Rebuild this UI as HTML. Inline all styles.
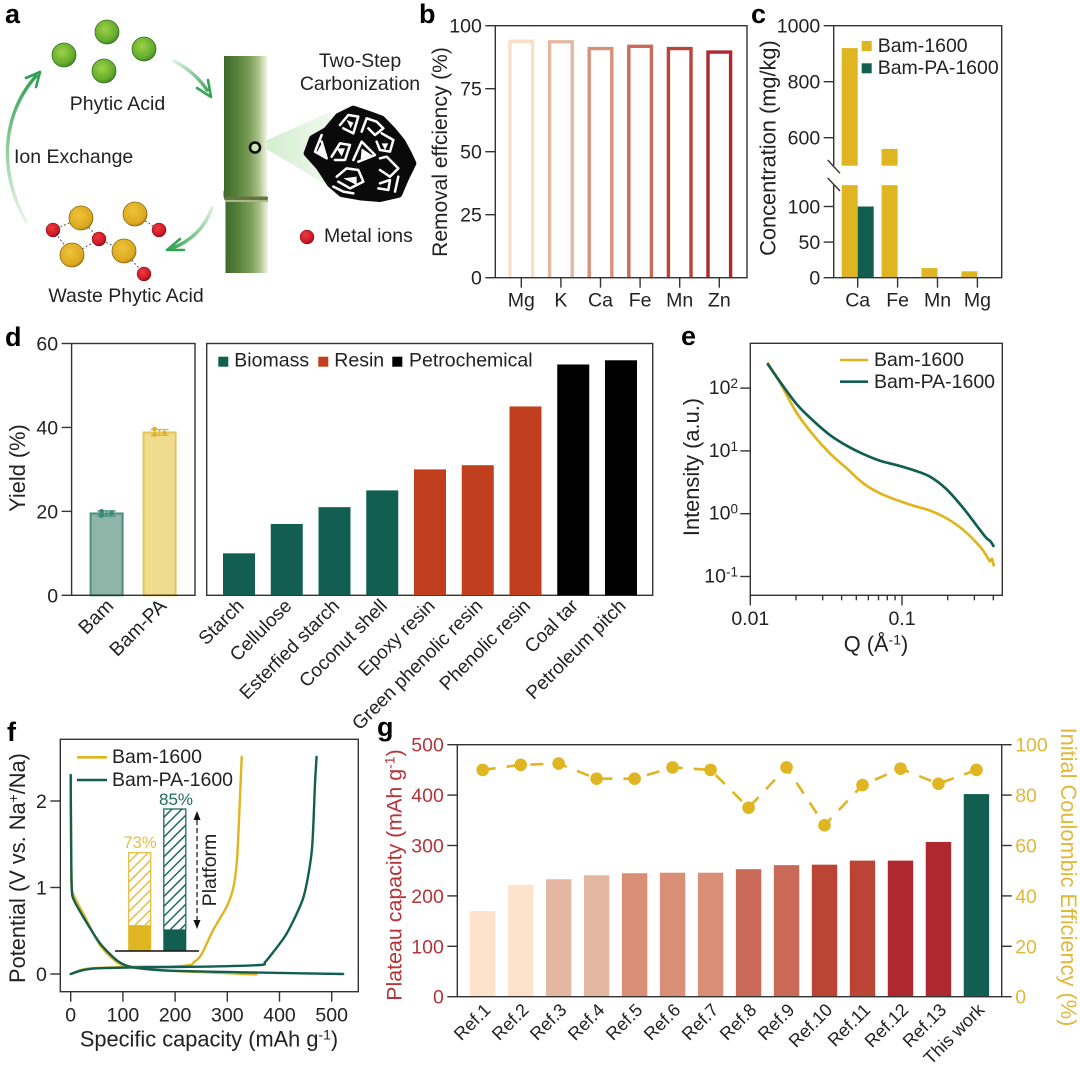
<!DOCTYPE html>
<html lang="en">
<head>
<meta charset="utf-8">
<title>Bamboo hard carbon figure</title>
<style>
html,body{margin:0;padding:0;background:#fff;width:1080px;height:1068px;overflow:hidden}
svg{display:block}
text{font-family:"Liberation Sans",sans-serif;font-size:19.5px;fill:#222}
.let{font-weight:700;font-size:27px;fill:#000}
.ttl{font-size:21.8px}
</style>
</head>
<body>
<svg id="fig" xmlns="http://www.w3.org/2000/svg" width="1080" height="1068" viewBox="0 0 1080 1068">
<defs>
<radialGradient id="gGreen" cx="42%" cy="38%" r="65%"><stop offset="0" stop-color="#9fd048"/><stop offset=".75" stop-color="#62ad2b"/><stop offset="1" stop-color="#44802a"/></radialGradient>
<radialGradient id="gGold" cx="42%" cy="38%" r="65%"><stop offset="0" stop-color="#eec33a"/><stop offset=".8" stop-color="#dca91f"/><stop offset="1" stop-color="#a98019"/></radialGradient>
<radialGradient id="gRed" cx="40%" cy="35%" r="65%"><stop offset="0" stop-color="#ee3a42"/><stop offset=".8" stop-color="#cb1722"/><stop offset="1" stop-color="#8c1218"/></radialGradient>
<linearGradient id="gBamboo" x1="0" x2="1" y1="0" y2="0"><stop offset="0" stop-color="#3e6a2c"/><stop offset=".3" stop-color="#56813a"/><stop offset=".6" stop-color="#7c9f58"/><stop offset=".8" stop-color="#a9c088"/><stop offset=".92" stop-color="#d6e2bf"/><stop offset="1" stop-color="#eef2df"/></linearGradient>
<linearGradient id="gCone" x1="0" x2="1" y1="0" y2="0"><stop offset="0" stop-color="#cfeccb"/><stop offset="1" stop-color="#f6fcf5"/></linearGradient>
<linearGradient id="gArrTop" gradientUnits="userSpaceOnUse" x1="172" y1="60" x2="208" y2="94"><stop offset="0" stop-color="#e6f3e6"/><stop offset="1" stop-color="#3aa655"/></linearGradient>
<linearGradient id="gArrLeft" gradientUnits="userSpaceOnUse" x1="26" y1="222" x2="36" y2="75"><stop offset="0" stop-color="#eef7ee"/><stop offset=".6" stop-color="#7cc48a"/><stop offset="1" stop-color="#2f9f50"/></linearGradient>
<linearGradient id="gArrBot" gradientUnits="userSpaceOnUse" x1="212" y1="208" x2="170" y2="249"><stop offset="0" stop-color="#dff0df"/><stop offset="1" stop-color="#36a553"/></linearGradient>
<pattern id="hatchGold" patternUnits="userSpaceOnUse" width="7" height="7" patternTransform="rotate(45)"><rect width="7" height="7" fill="#fff"/><rect width="1.5" height="7" fill="#e3bf45"/></pattern>
<pattern id="hatchGreen" patternUnits="userSpaceOnUse" width="7" height="7" patternTransform="rotate(45)"><rect width="7" height="7" fill="#fff"/><rect width="1.5" height="7" fill="#1f6b5c"/></pattern>
</defs>

<!-- Panel letters -->
<text class="let" x="5" y="23">a</text>
<text class="let" x="419" y="23">b</text>
<text class="let" x="751" y="23">c</text>
<text class="let" x="5" y="346">d</text>
<text class="let" x="681" y="345">e</text>
<text class="let" x="7" y="741">f</text>
<text class="let" x="377" y="736">g</text>

<!-- Panel a illustration -->
<g>
  <polygon points="258,144 330,112 345,196" fill="url(#gCone)"/>
  <g>
    <rect x="224" y="56" width="43" height="140" fill="url(#gBamboo)"/>
    <rect x="225.5" y="198" width="42.5" height="75" fill="url(#gBamboo)"/>
    <rect x="223.5" y="190" width="44" height="8" rx="2" fill="url(#gBamboo)"/>
    <rect x="224" y="196.5" width="44" height="3.5" rx="1.5" fill="#66743f"/>
    <rect x="226" y="200" width="42" height="2" fill="#a9b98a"/>
  </g>
  <circle cx="255" cy="147.5" r="5" fill="#cfe5b8" stroke="#0c0c0c" stroke-width="2.6"/>
  <g transform="scale(.33333)">
    <polygon fill="#0a0a0a" stroke="#0a0a0a" stroke-width="22" stroke-linejoin="round" points="1015,350 1060,328 1110,345 1145,358 1178,392 1205,425 1225,462 1238,490 1216,535 1196,582 1140,595 1080,590 1025,580 992,552 958,500 922,460 938,416 980,392"/>
    <g fill="none" stroke="#fff" stroke-width="7.5" stroke-linejoin="round" stroke-linecap="round">
      <polyline points="1020,375 1045,345 1075,350 1060,400 1030,385"/>
      <polyline points="1085,395 1100,355 1130,365 1150,385 1125,405 1105,385"/>
      <polyline points="1145,400 1180,420 1170,455 1140,450 1130,425"/>
      <polyline points="965,405 945,455 980,475 965,425"/>
      <polyline points="995,470 1020,430 1050,435 1035,480 1005,480"/>
      <polyline points="1060,480 1085,425 1125,465 1075,485"/>
      <polyline points="1140,475 1160,470 1195,505 1170,530 1140,510"/>
      <polyline points="1010,530 1040,505 1075,510 1090,545 1050,565 1015,545"/>
      <polyline points="1000,560 1030,575 1060,580"/>
      <polyline points="1140,550 1170,540 1165,570 1135,565"/>
      <polyline points="1195,530 1185,575"/>
    </g>
    <polygon fill="#fff" points="1040,360 1060,368 1052,385"/>
    <polygon fill="#fff" points="965,430 950,458 975,468"/>
    <polygon fill="#fff" points="1085,445 1115,465 1082,478"/>
    <polygon fill="#fff" points="1030,535 1070,530 1070,555"/>
    <polygon fill="#fff" points="1010,445 1035,445 1025,470"/>
    <polygon fill="#fff" points="1145,430 1165,430 1155,450"/>
  </g>
  <g stroke="#3f6f28" stroke-width=".8">
    <circle cx="107" cy="32" r="12" fill="url(#gGreen)"/>
    <circle cx="64" cy="55" r="12" fill="url(#gGreen)"/>
    <circle cx="144" cy="49" r="12" fill="url(#gGreen)"/>
    <circle cx="104" cy="71" r="12" fill="url(#gGreen)"/>
  </g>
  <g stroke="#555" stroke-width="1" stroke-dasharray="2 2" fill="none">
    <path d="M53 230L81 218M81 218L99 239M53 230L72 255M72 255L99 239M99 239L124 251M135 214L159 230M124 251L144 274"/>
  </g>
  <g stroke="#8a6a15" stroke-width=".8">
    <circle cx="81" cy="218" r="12" fill="url(#gGold)"/>
    <circle cx="135" cy="214" r="12" fill="url(#gGold)"/>
    <circle cx="72" cy="255" r="12" fill="url(#gGold)"/>
    <circle cx="124" cy="251" r="12" fill="url(#gGold)"/>
  </g>
  <g stroke="#7d1016" stroke-width=".5">
    <circle cx="53" cy="230" r="7" fill="url(#gRed)"/>
    <circle cx="159" cy="230" r="7" fill="url(#gRed)"/>
    <circle cx="99" cy="239" r="7" fill="url(#gRed)"/>
    <circle cx="144" cy="274" r="7" fill="url(#gRed)"/>
    <circle cx="307" cy="237" r="7" fill="url(#gRed)"/>
  </g>
  <g fill="none" stroke-linecap="round">
    <path d="M174 61Q195 72 207 90" stroke="url(#gArrTop)" stroke-width="3.5"/>
    <path d="M197 88L211 97L208 80" stroke="#36a553" stroke-width="2.6" stroke-linejoin="round"/>
    <path d="M26 222C-2 170 2 115 36 76" stroke="url(#gArrLeft)" stroke-width="3.4"/>
    <path d="M26 78L40 72L36 87" stroke="#2f9f50" stroke-width="2.6" stroke-linejoin="round"/>
    <path d="M212 208C205 228 190 242 170 249" stroke="url(#gArrBot)" stroke-width="3.5"/>
    <path d="M180 239L167 250L184 250" stroke="#36a553" stroke-width="2.6" stroke-linejoin="round"/>
  </g>
  <text x="117.5" y="110" text-anchor="middle">Phytic Acid</text>
  <text x="14" y="163">Ion Exchange</text>
  <text x="126" y="302" text-anchor="middle">Waste Phytic Acid</text>
  <text x="360" y="67" text-anchor="middle">Two-Step</text>
  <text x="360" y="90" text-anchor="middle">Carbonization</text>
  <text x="324" y="242">Metal ions</text>
</g>

<g id="charts"></g>
</svg>

<script>
// Panel b
const bCategories = ['Mg','K','Ca','Fe','Mn','Zn'];
const bValues = [94.5,94.3,91.6,92.5,91.6,90.2];
const bColors = ['#fbe0c8','#e4b8a3','#d89178','#cb6b5b','#b9443a','#b0282f'];
const bTicks = [0,25,50,75,100];
// Panel c
const cCategories = ['Ca','Fe','Mn','Mg'];
const cBam = [920,560,13.5,9];
const cBamPA = [100,0,0,0];
const cTicks = [0,50,100,600,800,1000];
// Panel d left
const dLeftCategories = ['Bam','Bam-PA'];
const dLeftValues = [19.5,38.8];
const dLeftErrors = [0.6,0.7];
const dLeftPoints = [[19.0,20.0,19.6],[38.3,39.6,38.7]];
const dTicks = [0,20,40,60];
// Panel d right
const dCategories = ['Starch','Cellulose','Esterfied starch','Coconut shell','Epoxy resin','Green phenolic resin','Phenolic resin','Coal tar','Petroleum pitch'];
const dValues = [10,17,21,25,30,31,45,55,56];
const dGroups = [0,0,0,0,1,1,1,2,2];
const dGroupNames = ['Biomass','Resin','Petrochemical'];
// Panel e
const eQ = [0.01294,0.0157,0.0202,0.026,0.0335,0.0432,0.0556,0.0716,0.0922,0.1188,0.153,0.197,0.254,0.327,0.36,0.38,0.392,0.404];
const eBam = [256,122,40.5,17.9,9.12,5.27,3.04,2.11,1.65,1.34,1.12,0.843,0.55,0.299,0.215,0.175,0.19,0.145];
const eBamPA = [247,126,55.6,30.2,17.9,12.1,8.9,6.97,5.95,4.95,3.88,2.44,1.22,0.55,0.41,0.37,0.335,0.295];
const eYExponents = [2,1,0,-1];
const eXMajor = [0.01,0.1];
const eXMinor = [0.02,0.03,0.04,0.05,0.06,0.07,0.08,0.09,0.2,0.3,0.4];
// Panel f
const fChargeBamQ = [0,24,50,130,190,229,236,250,273,299,312,319,324,327.6];
const fChargeBamV = [0,0.054,0.07,0.085,0.085,0.104,0.135,0.22,0.51,0.78,1.01,1.36,2.0,2.51];
const fDisBamQ = [0,1,2.5,24,56,88,114,184,290,356];
const fDisBamV = [2.3,1.4,0.97,0.7,0.335,0.14,0.077,0.04,0.012,-0.005];
const fChargePAQ = [0,20,50,130,250,363,372,385,414,446,462,468,471];
const fChargePAV = [0,0.04,0.066,0.077,0.085,0.104,0.135,0.23,0.47,0.89,1.43,2.2,2.51];
const fDisPAQ = [0,0.8,2,5,24,56,88,114,184,375,522];
const fDisPAV = [2.3,1.5,1.0,0.87,0.66,0.355,0.16,0.085,0.04,0.015,0];
const fXTicks = [0,100,200,300,400,500];
const fYTicks = [0,1,2];
const fInsetLabels = ['73%','85%'];
// Panel g
const gCategories = ['Ref.1','Ref.2','Ref.3','Ref.4','Ref.5','Ref.6','Ref.7','Ref.8','Ref.9','Ref.10','Ref.11','Ref.12','Ref.13','This work'];
const gCapacity = [170,222,233,241,245,246,246,253,261,262,270,270,307,402];
const gEfficiency = [90,92,92.5,86.5,86.5,91,90,75,91,68,84,90.5,84.5,90];
const gColors = ['#fde3cc','#fde3cc','#e4b7a2','#e4b7a2','#d98f76','#d98f76','#d98f76','#ca6958','#ca6958','#ba4535','#ba4535','#ae2830','#ae2830','#125f51'];
const gLeftTicks = [0,100,200,300,400,500];
const gRightTicks = [0,20,40,60,80,100];

const GOLD='#dfb521', GREEN='#125f51', RESIN='#c13f1f', AXRED='#b5343a', AXGOLD='#e0b83a', INK='#333';
const root=document.getElementById('charts');
const NS='http://www.w3.org/2000/svg';
function mk(tag,attrs,parent,txt){
  const n=document.createElementNS(NS,tag);
  for(const k in attrs)n.setAttribute(k,attrs[k]);
  if(txt!==undefined)n.textContent=txt;
  (parent||root).appendChild(n);
  return n;
}
function group(name){
  const g=mk('g',{});
  
  
  return g;
}
function linear(d0,d1,r0,r1){return v=>r0+(v-d0)*(r1-r0)/(d1-d0);}
function log10Scale(d0,r0,pxPerDecade){return v=>r0+(Math.log10(v)-Math.log10(d0))*pxPerDecade;}
function smooth(pts,t){
  let d='M'+pts[0][0].toFixed(2)+' '+pts[0][1].toFixed(2);
  for(let i=0;i<pts.length-1;i++){
    const p0=pts[Math.max(0,i-1)],p1=pts[i],p2=pts[i+1],p3=pts[Math.min(pts.length-1,i+2)];
    const c1=[p1[0]+(p2[0]-p0[0])*t,p1[1]+(p2[1]-p0[1])*t];
    const c2=[p2[0]-(p3[0]-p1[0])*t,p2[1]-(p3[1]-p1[1])*t];
    d+='C'+c1[0].toFixed(2)+' '+c1[1].toFixed(2)+' '+c2[0].toFixed(2)+' '+c2[1].toFixed(2)+' '+p2[0].toFixed(2)+' '+p2[1].toFixed(2);
  }
  return d;
}
function frame(parent,x0,y0,x1,y1){
  const r=mk('rect',{x:x0,y:y0,width:x1-x0,height:y1-y0,fill:'none',stroke:INK,'stroke-width':1.4},parent);
  
  
}
function yAxis(parent,ticks,scale,x,color,side){
  const dir=side==='right'?1:-1;
  ticks.forEach(v=>{
    const y=scale(v);
    const l=mk('line',{x1:x,x2:x+dir*10,y1:y,y2:y,stroke:INK,'stroke-width':1.4},parent);
    
    
    const t=mk('text',{x:x+dir*13.5,y:y+7,'text-anchor':side==='right'?'start':'end',style:'fill:'+color},parent,String(v));
    
    
  });
}
function xLabel(parent,cat,cx,y){
  const t=mk('text',{x:cx,y:y,'text-anchor':'middle'},parent,cat);
  
  
}
function xTick(parent,cx,y,len){
  const l=mk('line',{x1:cx,x2:cx,y1:y,y2:y+len,stroke:INK,'stroke-width':1.4},parent);
  
  
}
function rotLabel(parent,cat,cx,y,size){
  const t=mk('text',{x:cx,y:y,'text-anchor':'end',transform:'rotate(-45 '+cx+' '+y+')',style:'font-size:'+size+'px'},parent,cat);
  
  
}
function title(parent,name,txt,x,y,rot,color,sup,after){
  const a={x:x,y:y,'text-anchor':'middle','class':'ttl'};
  if(rot)a.transform='rotate('+rot+' '+x+' '+y+')';
  if(color)a.style='fill:'+color;
  const t=mk('text',a,parent);
  
  
  mk('tspan',{},t,txt);
  if(sup){
    mk('tspan',{dy:-7,style:'font-size:14px'+(color?';fill:'+color:'')},t,sup);
    mk('tspan',{dy:7},t,after||'');
  }
  return t;
}
function lineLegend(parent,label,color,x0,x1,y,tx,ty){
  const l=mk('line',{x1:x0,x2:x1,y1:y,y2:y,stroke:color,'stroke-width':2.6},parent);
  
  
  const t=mk('text',{x:tx,y:ty},parent,label);
  
  
}
function squareLegend(parent,label,color,sx,sy,tx,ty){
  const s=mk('rect',{x:sx,y:sy,width:10,height:10,fill:color},parent);
  
  
  const t=mk('text',{x:tx,y:ty},parent,label);
  
  
}

/* ---------- Panel b ---------- */
(function(){
  const g=group('removal-efficiency-chart');
  const x0=495.3,x1=747,yTop=25.7,yBot=277.7;
  const y=linear(0,100,yBot,yTop);
  const xc=i=>521.3+i*39.6;
  bValues.forEach((v,i)=>{
    const w=22.6,sw=3.4;
    const top=y(v)+sw/2;
    const p=mk('path',{d:'M'+(xc(i)-w/2)+' '+yBot+'V'+top+'H'+(xc(i)+w/2)+'V'+yBot,fill:'none',stroke:bColors[i],'stroke-width':sw},g);
    
    
    xTick(g,xc(i),yBot,10);
    xLabel(g,bCategories[i],xc(i),306.7);
  });
  frame(g,x0,yTop,x1,yBot);
  yAxis(g,bTicks,y,x0,'#222');
  const tb=title(g,'y-axis-title','Removal effciency (%)',447,152,-90);
  tb.style.fontSize='21px';
})();

/* ---------- Panel c ---------- */
(function(){
  const g=group('concentration-chart');
  const x0=833.7,x1=1001.7,yTop=25.7,yBot=277.7;
  const low=linear(0,100,yBot,206.5), up=linear(600,1000,137.7,yTop);
  const lowMax=130, upMin=500;
  const y=v=>v<=lowMax?low(v):up(v);
  const xc=i=>857.7+i*39.9, w=16;
  function bar(cx,v,color,name){
    if(v<=0)return;
    const a=mk('rect',{x:cx,y:low(Math.min(v,lowMax)),width:w,height:low(0)-low(Math.min(v,lowMax)),fill:color},g);
    
    
    if(v>upMin){
      const b=mk('rect',{x:cx,y:up(v),width:w,height:up(upMin)-up(v),fill:color},g);
      
      
    }
  }
  cCategories.forEach((c,i)=>{
    bar(xc(i)-w,cBam[i],GOLD,'bar-bam-1600-'+c);
    bar(xc(i),cBamPA[i],GREEN,'bar-bam-pa-1600-'+c);
    xTick(g,xc(i),yBot,10);
    xLabel(g,c,xc(i),306.7);
  });
  const spine=mk('path',{d:'M'+x0+' '+up(upMin)+'V'+yTop+'H'+x1+'V'+yBot+'H'+x0+'V'+low(lowMax),fill:'none',stroke:INK,'stroke-width':1.4},g);
  
  
  const br=mk('path',{d:'M827.7 160L840 173.3M827.7 178L840 191',stroke:INK,'stroke-width':1.4,fill:'none'},g);
  
  
  yAxis(g,cTicks,y,x0,'#222');
  title(g,'y-axis-title','Concentration (mg/kg)',775.7,148,-90);
  squareLegend(g,'Bam-1600',GOLD,861.7,41,877.7,52);
  squareLegend(g,'Bam-PA-1600',GREEN,861.7,63.3,877.7,74);
})();

/* ---------- Panel d ---------- */
(function(){
  const g=group('yield-chart');
  const yTop=343.5,yBot=595.3;
  const y=linear(0,60,yBot,yTop);
  const leftFills=['#8fb5a9','#f0dc8f'], leftStroke=['#4f8d7c','#e6c45a'], dots=['#3b8a76','#dcb52c'];
  const lc=i=>106.6+i*53;
  dLeftValues.forEach((v,i)=>{
    const r=mk('rect',{x:lc(i)-16,y:y(v),width:32,height:yBot-y(v),fill:leftFills[i],stroke:leftStroke[i],'stroke-width':2},g);
    
    
    const e=dLeftErrors[i];
    const eb=mk('path',{d:'M'+(lc(i)-9)+' '+y(v+e)+'H'+(lc(i)+9)+'M'+(lc(i)-9)+' '+y(v-e)+'H'+(lc(i)+9)+'M'+lc(i)+' '+y(v+e)+'V'+y(v-e),stroke:dots[i],'stroke-width':1.3,fill:'none'},g);
    
    
    dLeftPoints[i].forEach((p,j)=>{
      const c=mk('circle',{cx:lc(i)+(j<2?-5:5),cy:y(p),r:2.4,fill:dots[i]},g);
      
      
    });
    rotLabel(g,dLeftCategories[i],lc(i)+8,607,19.5);
  });
  frame(g,71.6,yTop,195,yBot);
  frame(g,206.7,yTop,652.7,yBot);
  yAxis(g,dTicks,y,71.6,'#222');
  title(g,'y-axis-title','Yield (%)',25,468,-90);
  const colors=[GREEN,RESIN,'#000'];
  const xc=i=>239+i*47.75;
  dValues.forEach((v,i)=>{
    const r=mk('rect',{x:xc(i)-16,y:y(v),width:32,height:yBot-y(v),fill:colors[dGroups[i]]},g);
    
    
    rotLabel(g,dCategories[i],xc(i)+6,607,19);
  });
  squareLegend(g,dGroupNames[0],colors[0],218.3,356.7,234.3,366.7);
  squareLegend(g,dGroupNames[1],colors[1],318.3,356.7,334.3,366.7);
  squareLegend(g,dGroupNames[2],colors[2],392.3,356.7,409,366.7);
})();

/* ---------- Panel e ---------- */
(function(){
  const g=group('saxs-chart');
  const x0=750.3,x1=1002.3,yTop=343.3,yBot=595.3;
  const x=log10Scale(0.01,x0,151.7), y=log10Scale(1,513.7,-62.8);
  const gold=mk('path',{d:smooth(eQ.map((q,i)=>[x(q),y(eBam[i])]),.16),fill:'none',stroke:GOLD,'stroke-width':2.7,'stroke-linejoin':'round'},g);
  
  
  const green=mk('path',{d:smooth(eQ.map((q,i)=>[x(q),y(eBamPA[i])]),.16),fill:'none',stroke:GREEN,'stroke-width':2.7,'stroke-linejoin':'round'},g);
  
  
  frame(g,x0,yTop,x1,yBot);
  eYExponents.forEach(k=>{
    const py=y(Math.pow(10,k));
    const l=mk('line',{x1:x0,x2:x0-10,y1:py,y2:py,stroke:INK,'stroke-width':1.4},g);
    
    
    const t=mk('text',{x:738,y:py+6,'text-anchor':'end'},g);
    
    
    mk('tspan',{},t,'10');
    mk('tspan',{dy:-6,style:'font-size:13.5px'},t,String(k));
  });
  eXMajor.forEach(v=>{
    xTick(g,x(v),yBot,10);
    xLabel(g,String(v),x(v),625);
  });
  eXMinor.forEach(v=>{xTick(g,x(v),yBot,5);});
  title(g,'y-axis-title','Intensity (a.u.)',699,467,-90);
  title(g,'x-axis-title','Q (Å',876,651.7,0,null,'-1',')');
  lineLegend(g,'Bam-1600',GOLD,840,868,360,874,366);
  lineLegend(g,'Bam-PA-1600',GREEN,840,868,381.7,874,388);
})();

/* ---------- Panel f ---------- */
(function(){
  const g=group('voltage-profile-chart');
  const x0=60.3,x1=358.3,yTop=739.3,yBot=991.7;
  const x=linear(0,500,70.7,331.7), y=linear(0,2,974,801);
  function curve(qs,vs,color,name){
    const p=mk('path',{d:smooth(qs.map((q,i)=>[x(q),y(vs[i])]),.12),fill:'none',stroke:color,'stroke-width':2.4,'stroke-linejoin':'round','stroke-linecap':'round'},g);
    
    
  }
  curve(fDisBamQ,fDisBamV,GOLD,'discharge-bam-1600');
  curve(fChargeBamQ,fChargeBamV,GOLD,'charge-bam-1600');
  curve(fDisPAQ,fDisPAV,GREEN,'discharge-bam-pa-1600');
  curve(fChargePAQ,fChargePAV,GREEN,'charge-bam-pa-1600');
  frame(g,x0,yTop,x1,yBot);
  fXTicks.forEach(v=>{xTick(g,x(v),yBot,10);xLabel(g,String(v),x(v),1021.7);});
  yAxis(g,fYTicks,y,x0,'#222');
  title(g,'y-axis-title','Potential (V vs. Na',25,868,-90,null,'+','/Na)');
  title(g,'x-axis-title','Specific capacity (mAh g',209,1046.7,0,null,'-1',')');
  lineLegend(g,'Bam-1600',GOLD,77,107,757.3,112,763);
  lineLegend(g,'Bam-PA-1600',GREEN,77,107,780,112,786);
  // inset
  const inset=group('platform-inset');
  const a=mk('rect',{x:128.7,y:852.7,width:22,height:73,fill:'url(#hatchGold)',stroke:'#e3bf45','stroke-width':1.3},inset);
  
  
  const b=mk('rect',{x:128.2,y:925.7,width:23,height:25.3,fill:GOLD},inset);
  
  
  const c=mk('rect',{x:163.8,y:809,width:22,height:121,fill:'url(#hatchGreen)',stroke:'#1f6b5c','stroke-width':1.3},inset);
  
  
  const d=mk('rect',{x:163.3,y:930,width:23,height:21,fill:GREEN},inset);
  
  
  const base=mk('line',{x1:115,x2:199,y1:951,y2:951,stroke:'#111','stroke-width':1.6},inset);
  
  
  const t1=mk('text',{x:140,y:848,'text-anchor':'middle',style:'fill:#e3bf45;font-size:16.5px'},inset,fInsetLabels[0]);
  
  
  const t2=mk('text',{x:176,y:805,'text-anchor':'middle',style:'fill:#1f6b5c;font-size:17px'},inset,fInsetLabels[1]);
  
  
  const ln=mk('line',{x1:197,x2:197,y1:820,y2:920,stroke:'#222','stroke-width':1.3,'stroke-dasharray':'5 3'},inset);
  
  
  const hd=mk('path',{d:'M197 811L193.5 820H200.5ZM197 929L193.5 920H200.5Z',fill:'#111'},inset);
  
  
  const pf=mk('text',{x:216,y:870,'text-anchor':'middle',transform:'rotate(-90 216 870)'},inset,'Platform');
  
  
})();

/* ---------- Panel g ---------- */
(function(){
  const g=group('plateau-capacity-chart');
  const x0=457.3,x1=1001.7,yTop=744.7,yBot=996.7;
  const y=linear(0,500,yBot,yTop), y2=linear(0,100,yBot,yTop);
  const xc=i=>482.7+i*37.98;
  gCapacity.forEach((v,i)=>{
    const r=mk('rect',{x:xc(i)-12.7,y:y(v),width:25.4,height:yBot-y(v),fill:gColors[i]},g);
    
    
    rotLabel(g,gCategories[i],xc(i)+9,1011,18);
  });
  const ln=mk('path',{d:'M'+gEfficiency.map((v,i)=>xc(i)+' '+y2(v)).join('L'),fill:'none',stroke:GOLD,'stroke-width':2.6,'stroke-dasharray':'13 11'},g);
  
  
  gEfficiency.forEach((v,i)=>{
    const c=mk('circle',{cx:xc(i),cy:y2(v),r:6.3,fill:GOLD},g);
    
    
  });
  frame(g,x0,yTop,x1,yBot);
  yAxis(g,gLeftTicks,y,x0,AXRED);
  yAxis(g,gRightTicks,y2,x1,AXGOLD,'right');
  const tl=title(g,'left-y-axis-title','Plateau capacity (mAh g',401.7,875,-90,AXRED,'-1',')');
  tl.style.fontSize='21.4px';
  title(g,'right-y-axis-title','Initial Coulombic Efficiency (%)',1061,877,90,AXGOLD);
})();
</script>
</body>
</html>
